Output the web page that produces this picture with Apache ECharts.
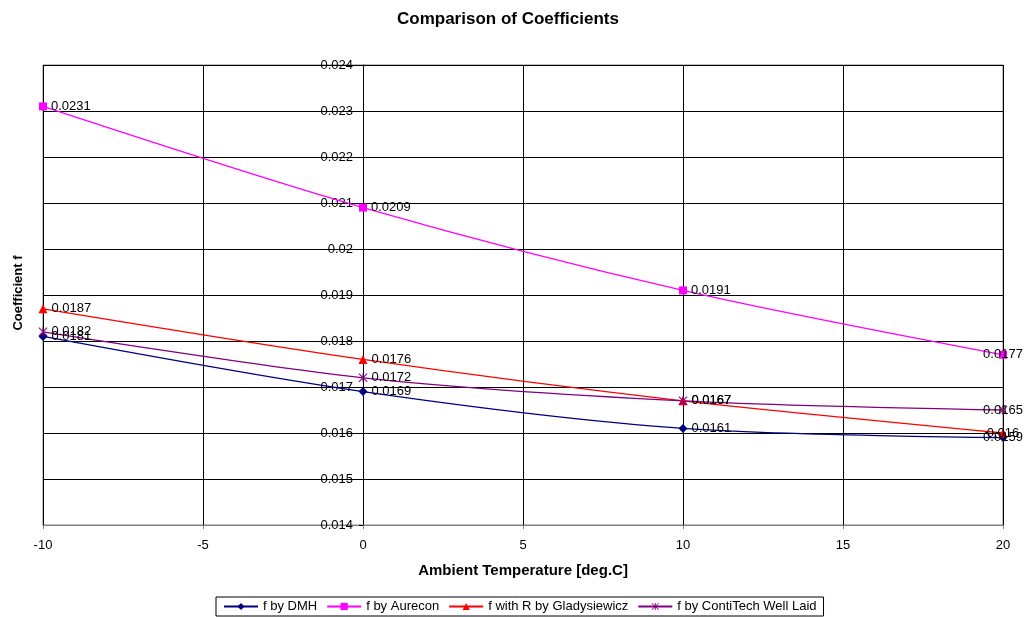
<!DOCTYPE html>
<html>
<head>
<meta charset="utf-8">
<script src="https://cdn.jsdelivr.net/npm/echarts@6/dist/echarts.min.js"></script>
<style>
  html, body { margin: 0; padding: 0; background: #fff; }
  #main { width: 1026px; height: 617px; }
</style>
</head>
<body>
<div id="main"></div>
<script>
// ambient temperatures (x values)
var temps = [-10, 0, 10, 20];
// coefficient values per method
var fDmh = [0.0181, 0.0169, 0.0161, 0.0159];
var fAurecon = [0.0231, 0.0209, 0.0191, 0.0177];
var fGlady = [0.0187, 0.0176, 0.0167, 0.016];
var fConti = [0.0182, 0.0172, 0.0167, 0.0165];
var seriesNames = ["f by DMH", "f by Aurecon", "f with R by Gladysiewicz", "f by ContiTech Well Laid"];

var FONT = "Liberation Sans, Arial";
// asterisk marker like excel
var starPath = "path://M4.4,0L5.6,0L5.6,10L4.4,10Z M0,0.8L0.8,0L10,9.2L9.2,10Z M10,0.8L9.2,0L0,9.2L0.8,10Z";

function pairs(vals) {
  return temps.map(function (t, i) {
    var d = { value: [t, vals[i]] };
    // excel pushes labels at the right edge back over the point
    if (t === 20) d.label = { position: "inside" };
    return d;
  });
}

function makeSeries(name, vals, color, symbol, size) {
  return {
    name: name,
    type: "line",
    smooth: 0.3,
    data: pairs(vals),
    symbol: symbol,
    symbolSize: size,
    showAllSymbol: true,
    lineStyle: { color: color, width: 1.3 },
    itemStyle: { color: color },
    label: {
      show: true,
      position: "right",
      distance: 4,
      color: "#000",
      fontFamily: FONT,
      fontSize: 13,
      formatter: function (p) { return String(p.value[1]); }
    },
    emphasis: { disabled: true }
  };
}

var myChart = echarts.init(document.getElementById("main"));
var option = {
  animation: false,
  backgroundColor: "#fff",
  textStyle: { fontFamily: FONT },
  title: {
    text: "Comparison of Coefficients",
    left: 392,
    top: 6,
    textStyle: { fontSize: 17, fontWeight: "bold", color: "#000", fontFamily: FONT }
  },
  legend: {
    bottom: 1,
    left: 216,
    data: seriesNames,
    itemWidth: 34,
    itemHeight: 9,
    itemGap: 9,
    padding: [3, 7],
    borderColor: "#000",
    borderWidth: 1,
    borderRadius: 0,
    textStyle: { fontSize: 13, color: "#000", fontFamily: FONT }
  },
  grid: { left: 43, right: 23, top: 65, bottom: 92 },
  xAxis: {
    type: "value",
    min: -10,
    max: 20,
    interval: 5,
    name: "Ambient Temperature [deg.C]",
    nameLocation: "middle",
    nameGap: 38,
    nameTextStyle: { fontSize: 15, fontWeight: "bold", color: "#000", fontFamily: FONT },
    axisLine: { onZero: false, lineStyle: { color: "#808080" } },
    axisTick: { show: true, length: 4, lineStyle: { color: "#808080" } },
    axisLabel: { color: "#000", fontSize: 13, margin: 14 },
    splitLine: { show: true, lineStyle: { color: "#000", width: 1 } }
  },
  yAxis: {
    type: "value",
    position: "left",
    offset: -320,
    min: 0.014,
    max: 0.024,
    interval: 0.001,
    axisLine: { show: true, onZero: false, lineStyle: { color: "#000" } },
    axisTick: { show: true, length: 4, lineStyle: { color: "#000" } },
    axisLabel: {
      color: "#000",
      fontSize: 13,
      margin: 10,
      formatter: function (v) { return String(parseFloat(v.toFixed(3))); }
    },
    splitLine: { show: true, lineStyle: { color: "#000", width: 1 } }
  },
  graphic: [
    {
      type: "rect",
      shape: { x: 43, y: 65, width: 960, height: 460 },
      style: { fill: null, stroke: "#808080", lineWidth: 1 },
      silent: true,
      z: 0
    },
    {
      type: "text",
      x: 18,
      y: 293,
      rotation: Math.PI / 2,
      style: {
        text: "Coefficient f",
        fill: "#000",
        font: "bold 13px " + FONT,
        align: "center",
        verticalAlign: "middle"
      }
    }
  ],
  series: [
    makeSeries(seriesNames[0], fDmh, "#000080", "diamond", 9),
    makeSeries(seriesNames[1], fAurecon, "#FF00FF", "rect", 8),
    makeSeries(seriesNames[2], fGlady, "#FF0000", "triangle", 9),
    makeSeries(seriesNames[3], fConti, "#800080", starPath, 9)
  ]
};
myChart.setOption(option);
</script>
</body>
</html>
